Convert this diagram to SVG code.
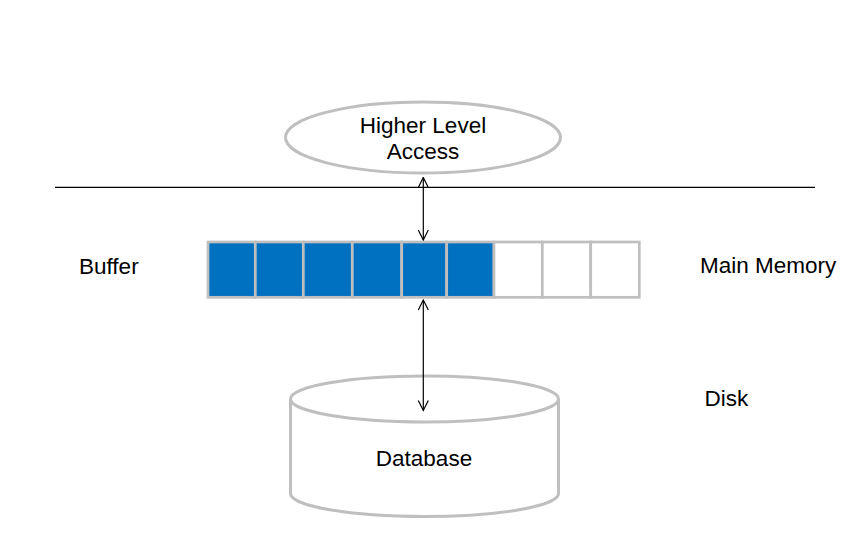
<svg xmlns="http://www.w3.org/2000/svg" width="866" height="547" viewBox="0 0 866 547">
<style>
.shape{fill:#FFFFFF;stroke:#BFBFBF;stroke-width:3}
.cell{stroke:#BFBFBF;stroke-width:2.7}
.blue{fill:#0070C0}
.empty{fill:#FFFFFF}
.lbl{font-family:"Liberation Sans",Arial,sans-serif;font-size:22.5px;fill:#000000}
.conn{stroke:#000000;stroke-width:1.2;fill:none}
</style>
<defs>
<marker id="arr" viewBox="0 0 12 12" refX="11" refY="6" markerWidth="12" markerHeight="12" markerUnits="userSpaceOnUse" orient="auto-start-reverse">
<path d="M1,1 L11,6 L1,11" fill="none" stroke="#000000" stroke-width="1.2"/>
</marker>
</defs>
<rect width="866" height="547" fill="#FFFFFF"/>
<g id="higher-level-access">
<ellipse class="shape" cx="423" cy="137.5" rx="137.5" ry="35.5"/>
<text class="lbl" x="423" y="132.5" text-anchor="middle">Higher Level</text>
<text class="lbl" x="423" y="159" text-anchor="middle">Access</text>
</g>
<g id="separator">
<line x1="55" y1="187.3" x2="815" y2="187.3" stroke="#000000" stroke-width="1.2"/>
</g>
<g id="buffer">
<rect class="cell blue" x="208" y="242" width="47.3" height="55.3"/>
<rect class="cell blue" x="255.3" y="242" width="48" height="55.3"/>
<rect class="cell blue" x="303.3" y="242" width="49" height="55.3"/>
<rect class="cell blue" x="352.3" y="242" width="49.4" height="55.3"/>
<rect class="cell blue" x="401.7" y="242" width="45" height="55.3"/>
<rect class="cell blue" x="446.7" y="242" width="47.3" height="55.3"/>
<rect class="cell empty" x="494" y="242" width="48.3" height="55.3"/>
<rect class="cell empty" x="542.3" y="242" width="48.4" height="55.3"/>
<rect class="cell empty" x="590.7" y="242" width="48.6" height="55.3"/>
</g>
<g id="database">
<path class="shape" d="M290.5,399 L290.5,493.5 A134,23 0 0 0 558.5,493.5 L558.5,399"/>
<ellipse class="shape" cx="424.5" cy="399" rx="134" ry="23"/>
<text class="lbl" x="424" y="466" text-anchor="middle">Database</text>
</g>
<g id="labels">
<text class="lbl" x="79" y="273.5">Buffer</text>
<text class="lbl" x="700" y="273">Main Memory</text>
<text class="lbl" x="704.5" y="405.5">Disk</text>
</g>
<g id="connectors">
<line class="conn" x1="423.3" y1="177.5" x2="423.3" y2="240" marker-start="url(#arr)" marker-end="url(#arr)"/>
<line class="conn" x1="423.3" y1="300" x2="423.3" y2="410.5" marker-start="url(#arr)" marker-end="url(#arr)"/>
</g>
</svg>
